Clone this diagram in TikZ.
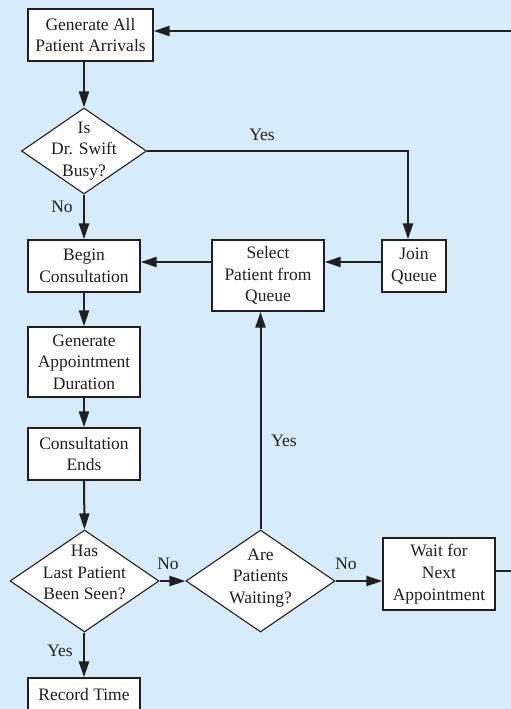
\documentclass[tikz,border=0pt]{standalone}
\usepackage{fontspec}
\setmainfont{Liberation Serif}
\usepackage{tikz}
\usetikzlibrary{arrows.meta,shapes.geometric,calc}
\definecolor{panel}{RGB}{214,236,250}
\definecolor{ink}{RGB}{35,31,32}

\tikzset{
  stepbox/.style={draw=ink, line width=1.2pt, fill=white, inner sep=0pt,
    minimum width=112pt, minimum height=52pt, align=center},
  decision/.style={diamond, draw=ink, line width=1.1pt, fill=white, inner sep=-14pt,
    align=center},
  flow/.style={->, line width=2pt, draw=ink},
  lbl/.style={inner sep=0pt, text=ink}
}

\begin{document}
\begin{tikzpicture}[x=1pt, y=-1pt, text=ink,
    font=\fontsize{17.5}{21.7}\selectfont,
    >={Triangle[length=16pt, width=10pt]}]
  \clip (0,0) rectangle (511,709);
  \fill[panel] (0,0) rectangle (511,709);

  % left column
  \node[stepbox, minimum width=125pt] (gen) at (90.5,35) {Generate All\\Patient Arrivals};
  \node[decision, minimum width=125pt, minimum height=86pt] (busy) at (84,151) {Is\\Dr. Swift\\Busy?};
  \node[stepbox] (begin) at (84,266) {Begin\\Consultation};
  \node[stepbox, minimum height=70pt] (appt) at (84,362) {Generate\\Appointment\\Duration};
  \node[stepbox] (ends) at (84,454) {Consultation\\Ends};
  \node[decision, minimum width=149pt, minimum height=102pt, text depth=17pt] (last) at (84.5,581) {Has\\Last Patient\\Been Seen?};
  \node[stepbox, minimum height=33pt] (rec) at (84,694.5) {Record Time};

  % queue side
  \node[stepbox, minimum height=71pt] (sel) at (268,275.5) {Select\\Patient from\\Queue};
  \node[stepbox, minimum width=64pt] (join) at (414,266) {Join\\Queue};
  \node[decision, minimum width=149pt, minimum height=102pt, text depth=10pt] (waiting) at (260.5,581) {Are\\Patients\\Waiting?};
  \node[stepbox, minimum height=72pt] (wait) at (439,574) {Wait for\\Next\\Appointment};

  % branch labels
  \node[lbl] (yes1) at (262,135) {Yes};
  \node[lbl] (no1) at (62,207) {No};
  \node[lbl] (yes2) at (284,441) {Yes};
  \node[lbl] (no2) at (168,564) {No};
  \node[lbl] (no3) at (346,564) {No};
  \node[lbl] (yes3) at (60,651) {Yes};

  \coordinate (row) at (0,262);
  \coordinate (loopR) at (520,571);
  \coordinate (loopT) at (520,31);

  \draw[flow] (gen.south -| busy.north) -- (busy.north);
  \draw[flow] (busy.east) -| ($(join.north)+(-6,0)$);
  \draw[flow] (busy.south) -- (begin.north);
  \draw[flow] (join.west |- row) -- (sel.east |- row);
  \draw[flow] (sel.west |- row) -- (begin.east |- row);
  \draw[flow] (begin.south) -- (appt.north);
  \draw[flow] (appt.south) -- (ends.north);
  \draw[flow] (ends.south) -- (last.north);
  \draw[flow] (last.east) -- (waiting.west);
  \draw[flow] (last.south -| rec.north) -- (rec.north);
  \draw[flow] (waiting.north) -- (waiting.north |- sel.south);
  \draw[flow] (waiting.east) -- (waiting.east -| wait.west);
  % back to the arrivals box
  \draw[flow] (wait.east |- loopR) -- (loopR) -- (loopT) -- (gen.east |- loopT);
\end{tikzpicture}
\end{document}
